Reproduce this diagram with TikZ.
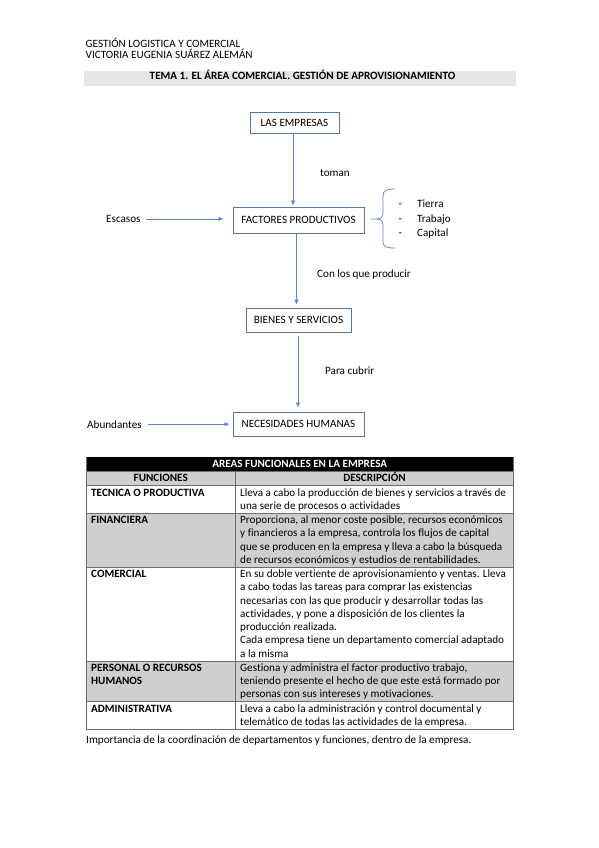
\documentclass[tikz,border=0pt]{standalone}
\usepackage{fontspec}
\setmainfont{Carlito}[Ligatures={NoCommon}]
\usetikzlibrary{arrows.meta}
\definecolor{boxblue}{RGB}{84,118,178}
\definecolor{arrblue}{RGB}{91,134,206}
\definecolor{bargray}{RGB}{231,230,230}
\definecolor{cellgray}{RGB}{208,206,206}
\definecolor{gridgray}{RGB}{110,110,110}
\newcommand{\desccell}[1]{\parbox[t]{275pt}{\raggedright #1}}
\newcommand{\basefont}{\fontsize{11.15}{13.25}\selectfont}
\begin{document}
\begin{tikzpicture}[x=1pt,y=-1pt,
  font=\basefont,
  flowbox/.style={draw=boxblue, line width=0.9pt, inner sep=0pt, text height=7pt, text depth=0pt},
  arr/.style={draw=arrblue, line width=0.75pt, -{Latex[length=5pt,width=4.5pt]}},
  lbl/.style={anchor=base west, inner sep=0pt},
  ctr/.style={anchor=base, inner sep=0pt},
  grid/.style={draw=gridgray, line width=0.5pt}]
\useasboundingbox (0,0) rectangle (599,848);
\fill[white] (0,0) rectangle (599,848);

% header
\node[lbl] (h1) at (85.5,47.3) {GESTIÓN LOGISTICA Y COMERCIAL};
\node[lbl] (h2) at (85.5,59) {VICTORIA EUGENIA SUÁREZ ALEMÁN};
\fill[bargray] (84,71) rectangle (516,86);
\node[ctr, font=\basefont\bfseries] (tit) at (302.5,80) {TEMA 1. EL ÁREA COMERCIAL. GESTIÓN DE APROVISIONAMIENTO};

% diagram
\node[flowbox, minimum width=89pt, minimum height=21pt] (las) at (294.5,122.5) {LAS EMPRESAS};
\node[flowbox, minimum width=131pt, minimum height=26pt] (fac) at (298.5,220) {FACTORES PRODUCTIVOS};
\node[flowbox, minimum width=105pt, minimum height=24pt] (bie) at (298.5,320) {BIENES Y SERVICIOS};
\node[flowbox, minimum width=131pt, minimum height=24pt] (nec) at (298.5,424) {NECESIDADES HUMANAS};

\draw[arr, shorten >=1pt] ([xshift=-1.5pt]las.south) -- ([xshift=-1.5pt]las.south |- fac.north);
\draw[arr, shorten <=1pt, shorten >=3pt] ([xshift=-2pt]fac.south) -- ([xshift=-2pt]fac.south |- bie.north);
\draw[arr, shorten <=4pt, shorten >=4pt] ([xshift=-0.5pt]bie.south) -- ([xshift=-0.5pt]bie.south |- nec.north);

\node[lbl] (toman) at (320,176) {toman};
\node[lbl] (conlos) at (317,277) {Con los que producir};
\node[lbl] (para) at (325,374) {Para cubrir};

\node[lbl] (esc) at (106,222.5) {Escasos};
\draw[arr, shorten <=5pt, shorten >=9pt] (esc.east) -- (esc.east -| fac.west);
\node[lbl] (abu) at (87,428) {Abundantes};
\draw[arr, shorten <=6pt, shorten >=3pt] (abu.east) -- (abu.east -| nec.west);

% brace
\draw[arrblue, line width=0.75pt]
  (395,189) .. controls (387,189) and (383,190) .. (383,196) -- (383,213)
  .. controls (383,217) and (381,219) .. (377,219) -- (371,219);
\draw[arrblue, line width=0.75pt]
  (377,219) .. controls (381,219) and (383,221) .. (383,225) -- (383,242)
  .. controls (383,247) and (387,248) .. (395,248);
\node[lbl] (d1) at (398.5,207.3) {-};
\node[lbl] (d2) at (398.5,222) {-};
\node[lbl] (d3) at (398.5,236.7) {-};
\node[lbl] (tie) at (417,207.3) {Tierra};
\node[lbl] (tra) at (417,222) {Trabajo};
\node[lbl] (cap) at (417,236.7) {Capital};

% table
\fill[black] (86,457) rectangle (513.5,471.25);
\fill[cellgray] (86,471.25) rectangle (513.5,485.5);
\fill[cellgray] (86,513) rectangle (513.5,567);
\fill[cellgray] (86,660.75) rectangle (513.5,701.5);
\foreach \yy in {471.25,485.5,513,567,660.75,701.5,729} {\draw[grid] (86,\yy) -- (513.5,\yy);}
\draw[grid] (86,457) -- (86,729);
\draw[grid] (513.5,457) -- (513.5,729);
\draw[grid] (235.5,471.25) -- (235.5,729);

\node[ctr, text=white, font=\basefont\bfseries] (ttit) at (299.75,467.75) {AREAS FUNCIONALES EN LA EMPRESA};
\node[ctr, font=\basefont\bfseries] (tfun) at (160.75,481.75) {FUNCIONES};
\node[ctr, font=\basefont\bfseries] (tdes) at (374.5,481.75) {DESCRIPCIÓN};

\begin{scope}[every node/.append style={font=\basefont\bfseries}]
\node[lbl] (f1) at (91,496) {TECNICA O PRODUCTIVA};
\node[lbl] (f2) at (91,523.5) {FINANCIERA};
\node[lbl] (f3) at (91,577.5) {COMERCIAL};
\node[lbl] (f4) at (91,671.25) {\parbox[t]{140pt}{PERSONAL O RECURSOS\\HUMANOS}};
\node[lbl] (f5) at (91,712) {ADMINISTRATIVA};
\end{scope}

\node[lbl] (e1) at (240,496) {\desccell{Lleva a cabo la producción de bienes y servicios a través de\\una serie de procesos o actividades}};
\node[lbl] (e2) at (240,523.5) {\desccell{Proporciona, al menor coste posible, recursos económicos\\y financieros a la empresa, controla los flujos de capital\\que se producen en la empresa y lleva a cabo la búsqueda\\de recursos económicos y estudios de rentabilidades.}};
\node[lbl] (e3) at (240,577.5) {\desccell{En su doble vertiente de aprovisionamiento y ventas. Lleva\\a cabo todas las tareas para comprar las existencias\\necesarias con las que producir y desarrollar todas las\\actividades, y pone a disposición de los clientes la\\producción realizada.\\Cada empresa tiene un departamento comercial adaptado\\a la misma}};
\node[lbl] (e4) at (240,671.25) {\desccell{Gestiona y administra el factor productivo trabajo,\\teniendo presente el hecho de que este está formado por\\personas con sus intereses y motivaciones.}};
\node[lbl] (e5) at (240,712) {\desccell{Lleva a cabo la administración y control documental y\\telemático de todas las actividades de la empresa.}};

\node[lbl] (foot) at (86,743) {Importancia de la coordinación de departamentos y funciones, dentro de la empresa.};
\end{tikzpicture}
\end{document}
